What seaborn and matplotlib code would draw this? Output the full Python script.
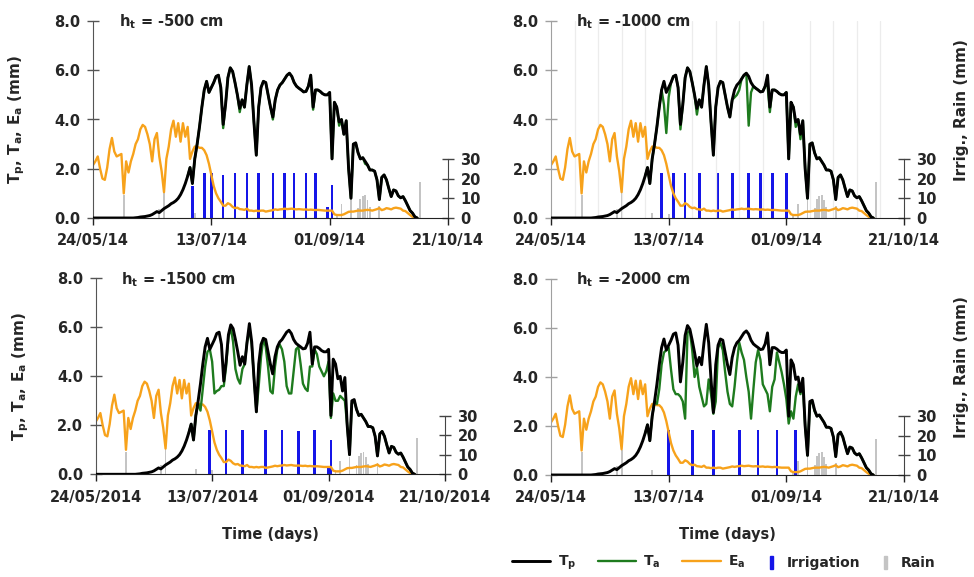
import numpy as np
import pandas as pd
import matplotlib
matplotlib.use("Agg")
import matplotlib.pyplot as plt
import matplotlib.dates as mdates
from matplotlib.lines import Line2D
from matplotlib.patches import Patch
import seaborn as sns

# ---------------------------------------------------------------- data
season_start = "2014-05-24"
season_end = "2014-10-21"
n_days = 138
ta_first_day = 40

# potential transpiration (mm/day), daily from 24/05/2014
tp = [0, 0, 0, 0, 0, 0, 0, 0, 0, 0,
      0, 0, 0, 0, 0, 0, 0, 0, 0.01, 0.02,
      0.04, 0.05, 0.06, 0.08, 0.10, 0.14, 0.20, 0.26, 0.22, 0.30,
      0.38, 0.44, 0.50, 0.58, 0.63, 0.70, 0.80, 0.95, 1.15, 1.40,
      1.70, 2.05, 1.40, 2.40, 3.00, 3.70, 4.50, 5.20, 5.55, 5.10,
      5.30, 5.50, 5.75, 5.80, 5.30, 3.80, 4.60, 5.70, 6.10, 5.95,
      5.50, 5.00, 4.45, 4.80, 4.50, 5.40, 6.15, 5.40, 3.90, 2.55,
      4.50, 5.30, 5.55, 5.50, 5.00, 4.50, 4.10, 4.80, 5.20, 5.40,
      5.50, 5.65, 5.80, 5.88, 5.75, 5.50, 5.35, 5.27, 5.20, 5.12,
      5.14, 5.35, 5.80, 4.50, 5.20, 5.20, 5.14, 5.05, 5.00, 5.00,
      5.10, 2.40, 4.70, 4.50, 3.90, 4.00, 3.40, 3.95, 2.00, 0.80,
      3.00, 3.05, 2.65, 2.40, 2.45, 2.30, 2.15, 1.95, 1.95, 1.90,
      1.55, 0.75, 1.65, 1.75, 1.55, 1.20, 0.87, 1.14, 1.10, 0.90,
      0.82, 0.87, 0.70, 0.50, 0.30, 0.20, 0.05, 0.00]

# actual soil evaporation (mm/day)
ea = [2.15, 2.30, 2.50, 2.00, 1.60, 1.55, 2.05, 2.80, 3.25, 2.70,
      2.50, 2.55, 2.60, 1.00, 2.30, 1.85, 2.30, 2.60, 3.00, 3.20,
      3.60, 3.78, 3.70, 3.40, 3.00, 2.30, 3.20, 3.45, 2.50, 1.90,
      1.05, 2.40, 2.90, 3.60, 3.95, 3.30, 3.85, 3.10, 3.85, 3.30,
      3.70, 2.40, 2.70, 2.90, 2.90, 2.85, 2.85, 2.75, 2.55, 2.20,
      1.75, 1.30, 1.00, 0.80, 0.66, 0.50, 0.50, 0.60, 0.55, 0.45,
      0.40, 0.42, 0.36, 0.35, 0.33, 0.38, 0.30, 0.30, 0.28, 0.30,
      0.28, 0.30, 0.30, 0.26, 0.28, 0.30, 0.32, 0.35, 0.33, 0.35,
      0.36, 0.38, 0.36, 0.37, 0.38, 0.36, 0.35, 0.36, 0.35, 0.34,
      0.35, 0.33, 0.34, 0.33, 0.32, 0.33, 0.32, 0.31, 0.30, 0.30,
      0.30, 0.30, 0.15, 0.12, 0.12, 0.12, 0.15, 0.20, 0.25, 0.26,
      0.26, 0.28, 0.30, 0.30, 0.30, 0.32, 0.33, 0.32, 0.30, 0.33,
      0.36, 0.40, 0.32, 0.35, 0.40, 0.38, 0.35, 0.40, 0.42, 0.40,
      0.38, 0.30, 0.28, 0.20, 0.12, 0.05, 0.00, 0.00]

# actual transpiration (mm/day) from 03/07/2014 for each threshold
ta_500 = [1.70, 2.05, 1.40, 2.40, 3.00, 3.70, 4.50, 5.20, 5.55, 5.10,
          5.30, 5.50, 5.75, 5.80, 5.30, 3.65, 4.60, 5.70, 6.10, 5.95,
          5.50, 5.00, 4.30, 4.80, 4.50, 5.40, 6.15, 5.40, 3.90, 2.55,
          4.50, 5.30, 5.55, 5.50, 5.00, 4.50, 4.00, 4.80, 5.20, 5.40,
          5.50, 5.65, 5.80, 5.88, 5.75, 5.50, 5.35, 5.27, 5.20, 5.12,
          5.14, 5.35, 5.80, 4.40, 5.20, 5.20, 5.14, 5.05, 5.00, 5.00,
          5.10, 2.40, 4.70, 4.50, 3.75, 4.00, 3.40, 3.95, 2.00, 0.80,
          3.00, 3.05, 2.65, 2.40, 2.45, 2.20, 2.15, 1.95, 1.95, 1.90,
          1.55, 0.75, 1.65, 1.75, 1.55, 1.20, 0.87, 1.14, 1.10, 0.90,
          0.82, 0.87, 0.70, 0.50, 0.30, 0.20, 0.05, 0.00]
ta_1000 = [1.70, 2.05, 1.40, 2.40, 3.00, 3.70, 4.50, 5.20, 4.60, 3.45,
           4.90, 5.50, 5.75, 5.80, 5.30, 3.60, 4.60, 5.70, 6.10, 5.95,
           5.50, 5.00, 4.20, 4.80, 4.50, 5.40, 6.15, 5.40, 3.90, 2.55,
           4.50, 5.30, 5.55, 5.50, 5.00, 4.50, 4.10, 4.80, 4.90, 5.00,
           5.20, 5.65, 5.80, 5.88, 3.75, 5.10, 5.35, 5.27, 5.20, 5.12,
           5.14, 5.35, 5.40, 4.30, 5.20, 5.20, 5.14, 5.05, 5.00, 5.00,
           5.10, 2.40, 4.70, 4.50, 3.70, 4.00, 3.20, 3.95, 2.00, 0.80,
           3.00, 3.05, 2.65, 2.40, 2.45, 2.30, 2.15, 1.95, 1.95, 1.90,
           1.55, 0.75, 1.65, 1.75, 1.55, 1.20, 0.87, 1.14, 1.10, 0.90,
           0.82, 0.87, 0.70, 0.50, 0.30, 0.20, 0.05, 0.00]
ta_1500 = [1.70, 2.05, 1.40, 2.40, 2.90, 2.60, 3.50, 4.40, 5.00, 5.10,
           4.60, 3.30, 3.40, 3.45, 3.60, 3.60, 4.40, 5.60, 6.00, 5.40,
           4.30, 3.90, 3.70, 4.30, 4.50, 5.40, 5.90, 5.30, 3.90, 2.55,
           3.60, 4.80, 5.55, 5.20, 4.40, 3.40, 3.30, 4.40, 5.10, 5.30,
           5.10, 4.60, 3.60, 3.30, 3.30, 4.20, 5.10, 5.20, 4.50, 3.70,
           3.50, 3.40, 4.40, 4.40, 5.10, 4.90, 4.40, 4.20, 4.00, 4.20,
           4.60, 2.30, 3.30, 3.00, 3.00, 3.20, 3.10, 3.00, 2.00, 0.80,
           2.90, 3.00, 2.65, 2.40, 2.45, 2.30, 2.15, 1.95, 1.95, 1.90,
           1.55, 0.75, 1.65, 1.75, 1.55, 1.20, 0.87, 1.14, 1.10, 0.90,
           0.82, 0.87, 0.70, 0.50, 0.30, 0.20, 0.05, 0.00]
ta_2000 = [1.70, 2.05, 1.40, 2.40, 3.00, 2.90, 3.50, 4.50, 5.00, 5.10,
           5.20, 4.30, 3.50, 3.30, 3.30, 3.20, 3.00, 2.30, 5.80, 5.90,
           5.10, 4.00, 4.40, 3.60, 3.20, 2.80, 2.90, 3.90, 3.30, 2.50,
           3.00, 5.20, 5.40, 5.10, 4.20, 3.40, 2.90, 2.80, 3.60, 4.60,
           5.40, 5.00, 4.70, 4.00, 3.40, 2.30, 3.50, 4.60, 5.10, 4.70,
           3.70, 3.50, 3.30, 2.60, 3.60, 3.90, 5.00, 4.60, 4.20, 3.70,
           3.10, 2.10, 2.60, 2.30, 3.20, 3.70, 3.30, 3.70, 2.00, 0.80,
           2.90, 3.00, 2.60, 2.40, 2.45, 2.30, 2.15, 1.95, 1.95, 1.90,
           1.55, 0.75, 1.65, 1.75, 1.55, 1.20, 0.87, 1.14, 1.10, 0.90,
           0.82, 0.87, 0.70, 0.50, 0.30, 0.20, 0.05, 0.00]

# irrigation events (date, mm) for each threshold
irr_500_dates = ["2014-07-05", "2014-07-10", "2014-07-13", "2014-07-18",
                 "2014-07-23", "2014-07-28", "2014-08-02", "2014-08-08",
                 "2014-08-13", "2014-08-17", "2014-08-22", "2014-08-26",
                 "2014-08-31", "2014-09-02"]
irr_500_mm = [16, 23, 23, 22, 23, 23, 23, 23, 23, 23, 23, 23, 5.7, 16.7]
irr_1000_dates = ["2014-07-10", "2014-07-15", "2014-07-20", "2014-07-26",
                  "2014-08-03", "2014-08-09", "2014-08-16", "2014-08-21",
                  "2014-08-26", "2014-09-01"]
irr_1000_mm = [23, 23, 23, 23, 23, 23, 23, 23, 23, 23]
irr_1500_dates = ["2014-07-12", "2014-07-19", "2014-07-26", "2014-08-05",
                  "2014-08-12", "2014-08-19", "2014-08-26", "2014-09-01",
                  "2014-09-02"]
irr_1500_mm = [22.6, 22.6, 22.6, 22.6, 22.6, 21.9, 22.6, 3, 17.6]
irr_2000_dates = ["2014-07-13", "2014-07-23", "2014-08-01", "2014-08-12",
                  "2014-08-20", "2014-08-28", "2014-09-05"]
irr_2000_mm = [23, 23, 23, 23, 23, 23, 23]

# rainfall events (date, mm)
rain_dates = ["2014-06-06", "2014-06-21", "2014-06-23", "2014-07-06",
              "2014-07-13", "2014-09-04", "2014-09-06", "2014-09-10",
              "2014-09-13", "2014-09-14", "2014-09-15", "2014-09-16",
              "2014-09-17", "2014-09-18", "2014-09-22", "2014-10-09"]
rain_mm = [11.5, 4.5, 13, 2.5, 2, 2, 7, 9, 5, 9.5, 11, 11.5, 9, 5.5, 6, 18.5]

panel_titles = ["-500 cm", "-1000 cm", "-1500 cm", "-2000 cm"]
date_ticks = ["2014-05-24", "2014-07-13", "2014-09-01", "2014-10-21"]

# ---------------------------------------------------------------- style
sns.set_style("ticks")
plt.rcParams["font.family"] = ["DejaVu Sans"]
plt.rcParams["font.weight"] = "bold"
plt.rcParams["axes.labelweight"] = "bold"
plt.rcParams["mathtext.default"] = "bf"

C_TP = "black"
C_TA = "#1e7b1e"
C_EA = "#f7a21b"
C_IRR = "#1515e8"
C_RAIN = "#c4c4c4"

dates = pd.date_range(season_start, periods=n_days, freq="D")
series = pd.DataFrame({"date": dates, "Tp": tp, "Ea": ea})
rain = pd.DataFrame({"date": pd.to_datetime(rain_dates), "mm": rain_mm})

fig = plt.figure(figsize=(9.74, 5.77), dpi=100)
W, H = 974.0, 577.0
rects = [
    (93, 21, 355, 197),
    (551, 21, 353, 197),
    (95.7, 278.3, 349.3, 196),
    (551, 279, 353, 196),
]

panels = [
    (ta_500, irr_500_dates, irr_500_mm, "%d/%m/%y", False),
    (ta_1000, irr_1000_dates, irr_1000_mm, "%d/%m/%y", True),
    (ta_1500, irr_1500_dates, irr_1500_mm, "%d/%m/%Y", False),
    (ta_2000, irr_2000_dates, irr_2000_mm, "%d/%m/%y", False),
]

x0, x1 = pd.Timestamp(season_start), pd.Timestamp(season_end)

for i, ((left, top, w, h), (ta, irr_d, irr_mm, fmt, grid)) in enumerate(zip(rects, panels)):
    ax = fig.add_axes([left / W, 1 - (top + h) / H, w / W, h / H])
    ax2 = ax.twinx()
    ax.set_zorder(ax2.get_zorder() + 1)
    ax.patch.set_visible(False)

    # water inputs on the secondary axis
    irr = pd.DataFrame({"date": pd.to_datetime(irr_d), "mm": irr_mm})
    ax2.bar(rain["date"], rain["mm"], width=pd.Timedelta(hours=19),
            color=C_RAIN, lw=0, zorder=1)
    ax2.bar(irr["date"], irr["mm"], width=pd.Timedelta(hours=27),
            color=C_IRR, lw=0, zorder=2)

    # fluxes on the primary axis
    ta_df = pd.DataFrame({"date": dates[ta_first_day:], "Ta": ta})
    sns.lineplot(data=series, x="date", y="Ea", ax=ax, color=C_EA, lw=1.7,
                 legend=False, zorder=2)
    sns.lineplot(data=ta_df, x="date", y="Ta", ax=ax, color=C_TA, lw=1.7,
                 legend=False, zorder=3)
    sns.lineplot(data=series, x="date", y="Tp", ax=ax, color=C_TP, lw=2.1,
                 legend=False, zorder=4)

    ax.set_xlim(x0, x1)
    ax.set_ylim(0, 8)
    ax2.set_ylim(0, 100)

    ax.set_yticks([0, 2, 4, 6, 8])
    ax.yaxis.set_major_formatter(matplotlib.ticker.FormatStrFormatter("%.1f"))
    ax2.set_yticks([0, 10, 20, 30])
    ax.set_xticks(pd.to_datetime(date_ticks))
    ax.xaxis.set_major_formatter(mdates.DateFormatter(fmt))

    if grid:
        ax.set_xticks(pd.date_range(season_start, season_end, freq="10D"), minor=True)
        ax.tick_params(axis="x", which="minor", length=0)
        ax.grid(which="minor", axis="x", color="#ececec", lw=0.9)
        ax.set_axisbelow(True)

    left_col = i % 2 == 0
    spine_col = "#555555" if left_col else "#a0a0a0"
    for s in ["top", "right"]:
        ax.spines[s].set_visible(False)
    ax.spines["left"].set_color(spine_col)
    ax.spines["bottom"].set_color("#222222")
    for s in ["top", "left", "bottom"]:
        ax2.spines[s].set_visible(False)
    ax2.spines["right"].set_bounds(0, 30)
    ax2.spines["right"].set_color("#444444")

    ax.tick_params(axis="y", direction="inout", length=8, width=1,
                   color=spine_col, pad=5, labelsize=10.5)
    ax.tick_params(axis="x", which="major", direction="out", length=5,
                   width=1, color="#222222", pad=6, labelsize=10.5)
    ax2.tick_params(axis="y", direction="inout", length=8, width=1,
                    color="#444444", pad=5, labelsize=10.5)

    ax.set_xlabel("")
    ax.set_ylabel("")
    ax2.set_ylabel("")
    if left_col:
        ax.set_ylabel("$T_p$, $T_a$, $E_a$ (mm)", fontsize=11)
        ax.yaxis.set_label_coords(-0.186, 0.5)
    else:
        ax2.set_ylabel("Irrig., Rain (mm)", fontsize=11)
        ax2.yaxis.set_label_coords(1.143, 0.55)
    if i >= 2:
        ax.set_xlabel("Time (days)", fontsize=10.5, labelpad=16)

    ax.text(0.072, 0.995, "$h_t$ = " + panel_titles[i], transform=ax.transAxes,
            ha="left", va="center", fontsize=10.5, fontweight="bold")

# legend
line_handles = [Line2D([], [], color=C_TP, lw=2.1),
                Line2D([], [], color=C_TA, lw=1.7),
                Line2D([], [], color=C_EA, lw=1.7)]
leg1 = fig.legend(line_handles, ["$T_p$", "$T_a$", "$E_a$"], loc="center left",
                  bbox_to_anchor=(512 / W, 1 - 563 / H), ncol=3, frameon=False,
                  fontsize=10, handlelength=2.75, handletextpad=0.55,
                  columnspacing=1.55, borderpad=0, borderaxespad=0)
bar_handles = [Patch(color=C_IRR), Patch(color=C_RAIN)]
leg2 = fig.legend(bar_handles, ["Irrigation", "Rain"], loc="center left",
                  bbox_to_anchor=(770 / W, 1 - 563 / H), ncol=2, frameon=False,
                  fontsize=10, handlelength=0.2, handleheight=1.1,
                  handletextpad=1.0, columnspacing=1.7, borderpad=0,
                  borderaxespad=0)

fig.savefig("out.png", dpi=100)
